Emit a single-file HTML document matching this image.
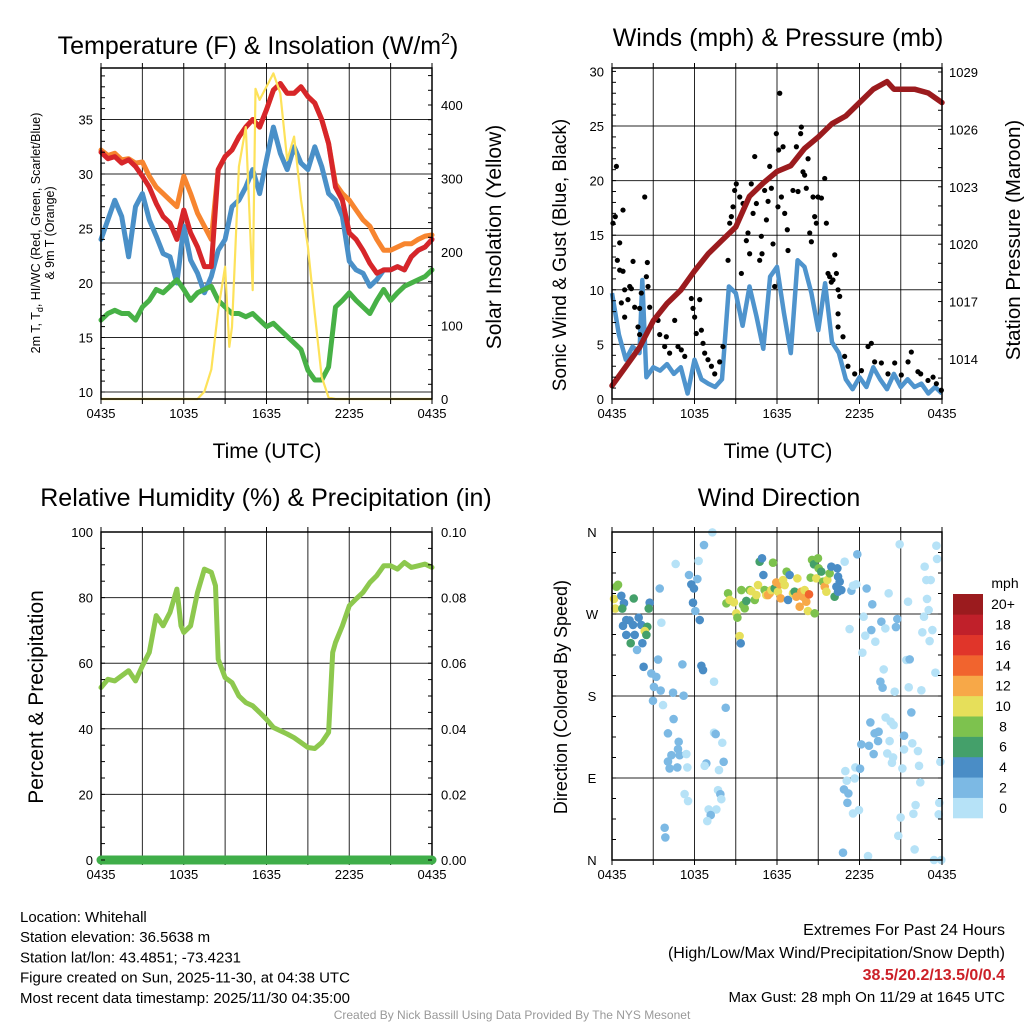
<!DOCTYPE html>
<html><head><meta charset="utf-8"><style>
html,body{margin:0;padding:0;background:#fff;}
svg{display:block;font-family:"Liberation Sans",Arial,sans-serif;}
</style></head><body>
<svg id="chart" width="1024" height="1024" viewBox="0 0 1024 1024" xmlns="http://www.w3.org/2000/svg"></svg>
<script>
// ---------- DATA ----------
const xTickLabels = ["0435","1035","1635","2235","0435"];
const tRed = [32.0,31.4,31.6,31.0,31.3,30.7,29.8,28.8,27.3,26.1,25.5,24.0,26.7,24.6,23.3,21.5,21.5,30.4,31.6,32.2,33.4,34.3,35.0,34.3,35.9,37.7,38.3,37.4,37.4,38.0,37.1,36.5,35.0,32.8,28.8,27.6,24.6,24.0,23.0,21.8,20.9,21.2,21.2,21.5,21.2,22.4,23.0,23.3,24.0];
const tOrange = [32.2,31.7,31.9,31.3,31.4,31.0,31.1,29.8,28.8,28.2,27.6,27.0,29.8,28.2,26.4,25.2,24.0,30.4,31.6,32.2,33.4,34.3,35.0,34.3,35.9,37.7,38.3,37.4,37.4,38.0,37.1,36.5,35.0,32.8,29.1,28.2,27.6,26.7,25.8,25.2,24.0,23.0,23.0,23.3,23.6,23.6,24.0,24.3,24.4];
const tBlue = [24.0,25.8,27.6,26.1,22.4,27.0,28.2,25.8,24.3,22.7,22.4,20.0,25.2,22.1,20.9,19.1,20.6,23.0,24.0,27.0,27.6,28.8,30.4,28.2,31.3,34.3,31.9,30.4,32.5,31.0,30.4,32.5,30.7,28.2,27.6,26.1,22.0,21.2,20.9,19.7,20.3,21.2,21.2,21.5,21.2,22.4,23.0,23.3,24.0];
const tGreen = [16.6,17.2,17.5,17.2,17.2,16.6,17.8,18.4,19.4,19.1,19.7,20.3,19.4,18.4,19.1,19.4,19.7,18.4,17.8,17.2,17.2,16.9,17.2,16.6,16.0,16.3,15.7,15.1,14.5,13.9,12.0,11.1,11.1,12.3,17.8,18.4,19.1,18.4,17.8,17.2,18.4,19.4,18.4,19.1,19.7,20.0,20.3,20.6,21.2];
const solarHours = [0,7,7.5,8,8.5,9,9.3,9.5,10,10.5,11,11.2,11.5,12,12.5,13,13.5,14,14.5,15,15.5,16,16.5,17,24];
const solarValues = [0,0,10,40,121,180,71,98,316,370,148,422,407,425,443,416,325,357,271,207,116,30,2,0,0];
const tempTicks = [10,15,20,25,30,35];
const solarTicks = [0,100,200,300,400];
const windHours = [0,0.5,1,1.5,2,2.2,2.5,3,3.5,4,4.5,5,5.5,6,6.5,7,7.5,8,8.5,9,9.5,10,10.5,11,11.5,12,12.5,13,13.5,14,14.5,15,15.5,16,16.5,17,17.5,18,18.5,19,19.5,20,20.5,21,21.5,22,22.5,23,23.5,24];
const windValues = [9.7,5.9,3.6,4.8,4.2,10.9,2.0,2.9,2.6,3.2,2.3,2.9,0.5,3.6,1.8,1.4,1.1,1.8,10.3,9.7,6.7,10.3,7.6,4.6,11.2,12.1,7.9,4.2,12.7,12.1,9.7,6.3,10.6,5.2,4.2,1.8,0.9,2.0,1.1,2.9,1.8,0.9,2.3,1.1,1.8,1.1,1.4,0.5,1.1,0.5];
const gustHours = [0.07,0.24,0.32,0.56,0.39,0.8,0.56,0.8,0.92,1.29,0.68,1.16,1.41,1.53,1.65,0.92,2.01,1.89,2.01,2.38,2.5,2.57,2.62,2.74,2.13,3.35,3.47,3.83,3.95,4.19,4.56,4.8,5.04,5.29,5.77,5.89,6.01,6.13,6.38,6.5,6.62,6.74,6.98,7.23,7.47,7.83,8.07,8.44,8.56,8.68,8.8,8.92,9.04,9.29,9.41,9.53,9.77,9.89,10.01,10.13,10.26,10.38,10.5,10.74,10.86,10.91,11.1,11.23,11.35,11.47,11.59,11.71,11.83,11.95,12.07,12.12,12.2,12.32,12.44,12.56,12.75,12.8,13.16,13.41,13.53,13.72,13.77,13.89,14.01,14.13,14.26,14.38,14.5,14.62,14.74,14.86,14.98,15.23,15.47,15.59,15.71,15.83,15.95,16.07,16.2,16.32,16.44,16.56,16.44,16.44,16.8,16.92,17.16,17.65,18.14,18.62,18.86,19.1,19.59,20.07,20.56,21.04,21.53,21.77,22.25,22.45,22.98,23.35,23.59,23.95];
const gustValues = [16.1,16.7,21.3,14.3,12.7,17.3,11.8,11.7,10.0,10.3,8.8,9.1,10.1,12.6,8.4,7.5,8.3,6.6,5.9,18.5,11.2,12.5,10.3,8.4,9.7,7.2,5.9,4.8,5.7,4.2,7.2,4.8,4.5,3.9,9.2,8.3,7.5,6.0,9.1,6.3,5.1,4.2,3.6,3.0,2.3,3.4,4.8,12.7,16.1,16.7,17.6,19.1,19.7,18.5,11.5,17.9,14.5,15.2,13.3,19.7,17.0,22.2,17.9,12.7,14.9,13.3,19.1,16.4,18.1,21.3,19.3,14.2,10.3,24.3,17.6,22.8,28.0,18.5,23.1,17.0,15.5,13.6,19.1,23.1,19.0,24.3,24.9,20.8,20.5,19.3,22.0,15.2,14.4,18.5,16.7,16.1,18.5,18.4,20.2,16.1,11.5,11.2,10.7,10.9,13.2,11.5,10.0,9.4,7.8,6.6,5.7,3.9,3.0,2.3,2.6,4.8,5.1,3.4,3.3,2.3,3.3,2.2,3.4,4.3,2.5,2.3,1.7,2.0,1.4,0.8];
const pressHours = [0,1,2,3,4,5,6,7,8,9,10,11,12,13,14,15,16,17,18,19,20,20.5,21,22,23,24];
const pressValues = [1012.6,1013.6,1014.6,1016.0,1016.9,1017.6,1018.6,1019.5,1020.2,1020.9,1022.5,1023.2,1023.8,1024.1,1025.0,1025.6,1026.3,1026.7,1027.4,1028.1,1028.5,1028.1,1028.1,1028.1,1027.9,1027.4];
const windTicks = [0,5,10,15,20,25,30];
const pressTicks = [1014,1017,1020,1023,1026,1029];
const rhHours = [0,0.5,1,1.5,2,2.5,3,3.5,4,4.5,5,5.5,5.8,6,6.5,7,7.5,8,8.3,8.5,9,9.5,10,10.5,11,11.5,12,12.5,13,13.5,14,14.5,15,15.5,16,16.5,16.8,17,17.5,18,18.5,19,19.5,20,20.5,21,21.5,22,22.5,23,23.5,24];
const rhValues = [52.6,55.1,54.6,56.2,57.7,54.6,59.2,63.3,74.5,71.4,75.5,82.6,71.4,69.4,71.4,81.6,88.7,87.7,83.6,61.2,55.6,54.1,50.0,48.0,47.0,45.0,42.9,40.4,39.4,38.4,37.3,35.8,34.3,34.0,35.8,38.9,63.3,66.3,71.4,77.5,79.6,81.6,84.6,86.7,89.7,89.7,88.7,90.7,89.2,89.7,90.2,89.2];
const precipHours = [0,24];
const precipValues = [0,0];
const rhTicks = [0,20,40,60,80,100];
const precipTicks = ["0.00","0.02","0.04","0.06","0.08","0.10"];
const dirHours = [0.32,0.44,0.15,0.24,0.68,0.87,0.75,1.58,2.74,2.67,3.47,0.8,1.04,1.28,1.53,1.94,2.13,2.57,2.38,2.5,1.04,1.65,1.36,2.21,1.82,3.59,2.3,3.35,2.86,3.22,3.05,3.54,4.44,5.21,2.98,3.71,4.48,4.07,4.85,4.8,4.32,4.92,4.07,4.19,4.75,5.41,5.48,5.28,5.53,3.83,3.88,4.63,5.6,6.21,5.77,5.96,5.89,6.06,6.38,6.3,6.69,7.3,5.12,6.5,6.62,7.42,8.27,7.42,7.54,8.02,6.86,6.74,8.12,7.78,7.71,7.88,7.95,7.03,7.59,7.18,6.93,
8.44,8.32,8.56,8.87,9.04,9.12,9.28,9.36,9.41,9.53,9.65,9.77,10.01,10.13,10.38,10.5,10.62,10.74,10.91,11.01,11.1,11.22,11.35,11.47,11.59,11.71,11.83,11.95,12.07,12.19,12.27,12.44,12.56,12.7,12.92,12.8,13.16,13.28,13.41,13.48,13.65,13.77,13.89,14.01,14.13,14.25,14.33,14.45,14.55,14.69,14.74,14.86,14.98,15.03,15.22,15.35,15.47,15.59,15.66,15.83,15.95,16.39,16.44,16.56,16.19,16.32,16.68,16.44,
16.92,17.41,17.53,17.84,17.77,18.52,18.93,20.12,18.3,19.59,19.88,20.75,20.65,17.28,18.86,18.42,19.15,18.21,19.76,19.52,19.68,20.56,21.41,21.65,21.58,22.5,21.77,19.9,20.27,20.48,18.79,19.1,19.39,19.35,21.24,18.13,18.69,20.19,19.03,20.02,20.44,20.36,21.84,21.24,22.25,21.12,22.33,17.7,18.04,16.97,17.65,17.07,16.87,17.19,17.12,17.96,17.53,22.42,20.99,22.08,21.92,20.82,16.8,18.62,22.01,23.42,23.95,20.92,23.59,23.64,22.74,22.86,23.18,22.91,23.03,22.69,22.57,23.3,23.1,23.52,23.88,23.8,23.76,21.53];
const dirDegrees = [300,302,286.5,276,290,282,276,287,282.4,276,298,257,263.4,263,258,266,258,256,251.3,247,247,247,238,238,230.5,260.5,212,220,204.8,201,190,186,183.6,180.3,174.8,170,154.7,139,129.8,121.7,115,115,108,100.5,101.6,116.3,101.6,72.4,64.7,35.4,24.8,324.9,312.8,308.4,302.5,298,282.4,273.3,263.4,328.2,345.7,359.6,214.7,213.2,208.5,195.7,167.1,139.7,138.2,128.7,106,103.4,107.8,98.7,76.7,72.3,66.8,55.5,55.5,49.3,42.7,
292.7,281.7,285.4,282.8,270.7,266,245.8,237.8,296.3,279.9,276.2,284.3,296.3,295.2,285.4,290.8,301.8,327.4,331.1,312.8,296.3,290.8,290.8,292.7,296.3,326.3,298.2,304.7,294.5,302.6,287.2,307.3,301.8,316.5,312.8,285.4,292.7,294.5,289,309.1,278,294.5,289,296.3,283.5,273.3,291.6,309.9,329.3,324.5,270.7,309.1,331.1,320.1,316.5,305.5,300,294.5,307.3,314.6,322,320.1,311,305.5,289,300,296.3,294.5,
327.4,295.6,301.1,335.5,302.6,298,280.6,292.7,267,261.6,254.2,264.5,255.7,253.5,252.4,246.2,239.6,227.5,209.2,195.7,189.1,184.7,219.5,220.2,189.5,186.2,162,156.5,151.8,148.1,151,139,140.8,130.5,136.4,126.9,125.4,130.5,116.3,117,112.6,106.7,128.1,121.4,119.6,100.5,103.4,101.6,100.2,97.6,89.5,87,77.5,73.1,62.8,54.8,51.1,85.2,46.7,60.3,50.7,26.6,8,4.3,11.6,0,0,346.5,345,330.4,322,307.3,307.3,286.5,274.4,267,249.9,252.4,240.3,205.6,107.8,62.8,50.1,283.5];
const dirSpeeds = [9,8,10,10,4,4,6,6,4,6,3,4,4,4,4,4,4,6,10,6,4,4,6,4,3,1,4,3,3,3,3,3,3,3,3,1,3,3,3,3,3,3,3,3,3,1,1,1,1,3,3,1,3,3,4,4,4,3,4,1,3,1,3,4,4,1,3,1,3,1,3,1,3,1,1,3,1,1,1,3,1,
8,8,10,10,10,8,10,4,8,8,8,6,8,10,8,10,10,6,4,4,8,10,12,12,10,8,6,12,10,12,12,10,10,8,4,4,10,6,12,10,12,12,12,10,12,10,15,8,8,6,8,10,8,8,6,8,12,10,10,8,4,4,4,4,6,4,4,4,
1,3,1,3,1,3,3,1,1,3,1,3,3,1,3,1,1,1,1,3,3,1,1,3,1,1,3,1,1,1,3,3,3,3,3,3,3,1,3,1,1,1,1,1,1,1,1,1,3,1,1,1,3,3,3,1,1,1,1,1,1,1,3,1,1,1,1,1,1,1,1,1,1,1,1,1,1,1,1,1,1,1,1,1,3];
const dirTicks = ["N","E","S","W","N"];
const speedLevels = ["0","2","4","6","8","10","12","14","16","18","20+"];
const speedColors = ["#b6e2f7","#7cb9e4","#4a8dc6","#44a06a","#7dc24e","#e6df5a","#f7a848","#f1642e","#e0352a","#c0202a","#9b1b1e"];

// ---------- HELPERS ----------
const svg = document.getElementById('chart');
const NS = 'http://www.w3.org/2000/svg';
function mk(tag, attrs, parent){
  const e = document.createElementNS(NS, tag);
  for (const k in attrs) e.setAttribute(k, attrs[k]);
  (parent || svg).appendChild(e);
  return e;
}
function txt(s, x, y, size, anchor, parent, extra){
  const t = mk('text', Object.assign({x:x, y:y, 'font-size':size, 'text-anchor':anchor||'middle', fill:'#000'}, extra||{}), parent);
  t.textContent = s;
  return t;
}
function xs(p, h){ return p.x0 + h/24*(p.x1-p.x0); }
function pathFrom(p, hours, vals, yf){
  let d = '';
  for (let i=0;i<hours.length;i++){ d += (i?'L':'M') + xs(p,hours[i]).toFixed(1) + ' ' + yf(vals[i]).toFixed(1); }
  return d;
}
function halfHours(n){ const a=[]; for(let i=0;i<n;i++) a.push(i*0.5); return a; }
function frame(p, name, hGrid){
  const g = mk('g', {});
  
  
  for (let h=3; h<24; h+=3){
    mk('line', {x1:xs(p,h), x2:xs(p,h), y1:p.y0, y2:p.y1, stroke:'#000', 'stroke-width':1, 'stroke-opacity':0.85}, g);
  }
  hGrid.forEach(y => mk('line', {x1:p.x0, x2:p.x1, y1:y, y2:y, stroke:'#000', 'stroke-width':1, 'stroke-opacity':0.85}, g));
  return g;
}
function border(p, name){
  const r = mk('rect', {x:p.x0, y:p.y0, width:p.x1-p.x0, height:p.y1-p.y0, fill:'none', stroke:'#000', 'stroke-width':1.5});
  
  
  const g = mk('g', {});
  
  
  for (let i=0;i<=8;i++){
    const x = xs(p, i*3);
    mk('line', {x1:x, x2:x, y1:p.y1, y2:p.y1+5, stroke:'#000', 'stroke-width':1}, g);
    mk('line', {x1:x, x2:x, y1:p.y0, y2:p.y0-5, stroke:'#000', 'stroke-width':1}, g);
  }
  xTickLabels.forEach((s,i) => txt(s, xs(p, i*6), p.y1+19, 13, 'middle', g));
}
function minorTicks(p, ys, side){
  const g = mk('g', {});
  ys.forEach(y => {
    if (side==='L') mk('line', {x1:p.x0, x2:p.x0+4, y1:y, y2:y, stroke:'#000', 'stroke-width':1}, g);
    else mk('line', {x1:p.x1, x2:p.x1-4, y1:y, y2:y, stroke:'#000', 'stroke-width':1}, g);
  });
}
function rotLabel(s, x, y, size, name){
  const t = txt(s, x, y, size, 'middle', null, {transform:'rotate(-90 '+x+' '+y+')'});
  
  
  return t;
}

// ---------- PANEL 1: TEMPERATURE ----------
const P1 = {x0:101, x1:432, y0:68, y1:399};
const yT = v => 392 - (v-10)*10.9;
const yS = v => 399 - v*0.735;
frame(P1, 'temperature', tempTicks.map(yT));
{
  const hh = halfHours(49);
  const series = [[tOrange,'#f7852f','orange-9m-temp-line'],[tBlue,'#4a90c8','blue-hiwc-line'],[tRed,'#d7262a','red-2m-temp-line'],[tGreen,'#47b146','green-dewpoint-line']];
  series.forEach(s => {
    const l = mk('path', {d:pathFrom(P1, hh, s[0], yT), fill:'none', stroke:s[1], 'stroke-width':5, 'stroke-linejoin':'round', 'stroke-linecap':'round'});
    
    
  });
  const sl = mk('path', {d:pathFrom(P1, solarHours, solarValues, yS), fill:'none', stroke:'#fde25a', 'stroke-width':2.2, 'stroke-linejoin':'round'});
  
  
}
border(P1, 'temperature');
{
  const g = mk('g', {});
  
  
  tempTicks.forEach(v => txt(String(v), P1.x0-8, yT(v)+5, 13, 'end', g));
  const g2 = mk('g', {});
  
  
  solarTicks.forEach(v => txt(String(v), P1.x1+9, yS(v)+5, 13, 'start', g2));
  const mL=[], mR=[];
  for (let v=10; v<=39; v++) mL.push(yT(v));
  for (let v=0; v<=440; v+=20) mR.push(yS(v));
  minorTicks(P1, mL, 'L'); minorTicks(P1, mR, 'R');
}
{
  const t = txt('Temperature (F) & Insolation (W/m', 258, 54, 25, 'middle');
  const sup = mk('tspan', {'font-size':16, dy:-10}, t); sup.textContent = '2';
  const cl = mk('tspan', {'font-size':25, dy:10}, t); cl.textContent = ')';
  
  
  const xl = txt('Time (UTC)', 267, 458, 21, 'middle');
  
  
  const a = txt('', 40, 233, 12.5, 'middle', null, {transform:'rotate(-90 40 233)'});
  a.innerHTML = '2m T, T<tspan font-size="9" dy="3">d</tspan><tspan dy="-3">, HI/WC (Red, Green, Scarlet/Blue)</tspan>';
  
  
  rotLabel('& 9m T (Orange)', 54, 233, 12.5, 'temperature-y-axis-title-line2');
  rotLabel('Solar Insolation (Yellow)', 501, 237, 21, 'solar-y-axis-title');
}

// ---------- PANEL 2: WINDS ----------
const P2 = {x0:612, x1:942, y0:68, y1:399};
const yW = v => 399 - v*10.92;
const yP = v => 72 + (1029-v)*19.13;
frame(P2, 'winds', [5,10,15,20,25].map(yW));
{
  const wl = mk('path', {d:pathFrom(P2, windHours, windValues, yW), fill:'none', stroke:'#4f94cd', 'stroke-width':4.5, 'stroke-linejoin':'round'});
  
  
  const gg = mk('g', {});
  
  
  gustHours.forEach((h,i) => {
    const c = mk('circle', {cx:xs(P2,h), cy:yW(gustValues[i]), r:2.6, fill:'#000'}, gg);
    
    
  });
  const pl = mk('path', {d:pathFrom(P2, pressHours, pressValues, yP), fill:'none', stroke:'#9b1b1e', 'stroke-width':5.5, 'stroke-linejoin':'round', 'stroke-linecap':'round'});
  
  
}
border(P2, 'winds');
{
  const g = mk('g', {});
  
  
  windTicks.forEach(v => txt(String(v), P2.x0-8, yW(v)+5, 13, 'end', g));
  const g2 = mk('g', {});
  
  
  pressTicks.forEach(v => txt(String(v), P2.x1+7, yP(v)+5, 13, 'start', g2));
  const mL=[], mR=[];
  for (let v=0; v<=30; v++) mL.push(yW(v));
  for (let v=1013; v<=1029; v++) mR.push(yP(v));
  minorTicks(P2, mL, 'L'); minorTicks(P2, mR, 'R');
  const t = txt('Winds (mph) & Pressure (mb)', 778, 46, 25, 'middle');
  
  
  const xl = txt('Time (UTC)', 778, 458, 21, 'middle');
  
  
  rotLabel('Sonic Wind & Gust (Blue, Black)', 566, 255, 19, 'wind-y-axis-title');
  rotLabel('Station Pressure (Maroon)', 1020, 240, 20.5, 'pressure-y-axis-title');
}

// ---------- PANEL 3: RH ----------
const P3 = {x0:101, x1:432, y0:532, y1:860};
const yRH = v => 860 - v*3.28;
frame(P3, 'humidity', [20,40,60,80].map(yRH));
{
  const rl = mk('path', {d:pathFrom(P3, rhHours, rhValues, yRH), fill:'none', stroke:'#8dc84e', 'stroke-width':5, 'stroke-linejoin':'round', 'stroke-linecap':'round'});
  
  
}
border(P3, 'humidity');
{
  const pl = mk('path', {d:pathFrom(P3, precipHours, precipValues, v => 860 - v*3280), fill:'none', stroke:'#3fae49', 'stroke-width':9, 'stroke-linecap':'round'});
  
  
  const g = mk('g', {});
  
  
  rhTicks.forEach(v => txt(String(v), P3.x0-8, yRH(v)+5, 13, 'end', g));
  const g2 = mk('g', {});
  
  
  precipTicks.forEach((s,i) => txt(s, P3.x1+9, yRH(i*20)+5, 13, 'start', g2));
  const mL=[];
  for (let v=0; v<=100; v+=5) mL.push(yRH(v));
  minorTicks(P3, mL, 'L'); minorTicks(P3, mL, 'R');
  const t = txt('Relative Humidity (%) & Precipitation (in)', 266, 506, 25, 'middle');
  
  
  rotLabel('Percent & Precipitation', 43, 697, 21, 'humidity-y-axis-title');
}

// ---------- PANEL 4: WIND DIRECTION ----------
const P4 = {x0:612, x1:942, y0:532, y1:860};
const yD = v => 860 - v/360*328;
frame(P4, 'direction', [90,180,270].map(yD));
{
  const gg = mk('g', {});
  
  
  dirHours.forEach((h,i) => {
    const idx = Math.min(10, Math.floor(dirSpeeds[i]/2));
    const c = mk('circle', {cx:xs(P4,h), cy:yD(dirDegrees[i]), r:4.3, fill:speedColors[idx]}, gg);
    
    
  });
}
border(P4, 'direction');
{
  const g = mk('g', {});
  
  
  dirTicks.forEach((s,i) => txt(s, P4.x0-20, yD(i*90)+5, 13, 'middle', g));
  const mL=[];
  for (let v=0; v<=360; v+=22.5) mL.push(yD(v));
  minorTicks(P4, mL, 'L'); minorTicks(P4, mL, 'R');
  const t = txt('Wind Direction', 779, 506, 25, 'middle');
  
  
  rotLabel('Direction (Colored By Speed)', 567, 697, 18, 'direction-y-axis-title');
  const cb = mk('g', {});
  
  
  const bh = 224/11;
  speedLevels.forEach((s,i) => {
    const y = 818 - (i+1)*bh;
    const r = mk('rect', {x:953, y:y, width:30, height:bh+0.3, fill:speedColors[i]}, cb);
    
    
    txt(s, 1003, y+bh/2+5, 14, 'middle', cb);
  });
  txt('mph', 1005, 588, 14, 'middle', cb);
}

// ---------- FOOTER ----------
{
  const info = ['Location: Whitehall','Station elevation: 36.5638 m','Station lat/lon: 43.4851; -73.4231','Figure created on Sun, 2025-11-30, at 04:38 UTC','Most recent data timestamp: 2025/11/30 04:35:00'];
  const g = mk('g', {});
  
  
  info.forEach((s,i) => txt(s, 20, 922 + i*20.2, 15, 'start', g));
  const g2 = mk('g', {});
  
  
  txt('Extremes For Past 24 Hours', 1005, 935, 16, 'end', g2);
  txt('(High/Low/Max Wind/Precipitation/Snow Depth)', 1005, 958, 16, 'end', g2);
  txt('38.5/20.2/13.5/0/0.4', 1005, 980, 16, 'end', g2, {fill:'#cc2028', 'font-weight':'bold'});
  txt('Max Gust: 28 mph On 11/29 at 1645 UTC', 1005, 1002, 15, 'end', g2);
  const c = txt('Created By Nick Bassill Using Data Provided By The NYS Mesonet', 512, 1019, 12, 'middle', null, {fill:'#999'});
  
  
}
</script>
</body></html>
